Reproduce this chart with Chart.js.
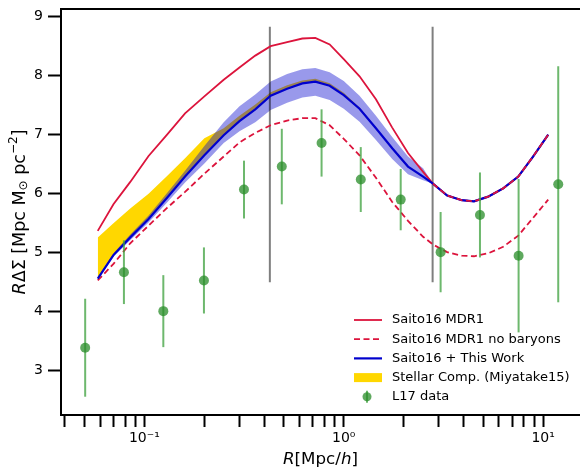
<!DOCTYPE html>
<html>
<head>
<meta charset="utf-8">
<style>
  body { margin: 0; background: #fff; }
  canvas { display: block; }
</style>
</head>
<body>
<canvas id="myChart" width="580" height="468"></canvas>

<script src="https://cdn.jsdelivr.net/npm/chart.js"></script>

<script>
  // radii for the model curves [Mpc/h]
  const rModel = [0.0584, 0.07, 0.085, 0.105, 0.13, 0.16, 0.2, 0.25, 0.3, 0.36,
                  0.43, 0.52, 0.62, 0.72, 0.85, 1.0, 1.2, 1.45, 1.75, 2.1,
                  2.5, 2.8, 3.3, 3.9, 4.5, 5.3, 6.3, 7.5, 8.9, 10.6];

  const saitoMDR1 = [5.36, 5.81, 6.19, 6.63, 6.99, 7.35, 7.64, 7.92, 8.13, 8.33,
                     8.49, 8.56, 8.62, 8.63, 8.52, 8.27, 7.98, 7.59, 7.11, 6.68,
                     6.36, 6.16, 5.96, 5.88, 5.86, 5.94, 6.08, 6.28, 6.62, 6.99];

  const noBaryons = [4.52, 4.80, 5.15, 5.45, 5.75, 6.02, 6.33, 6.62, 6.86, 7.02,
                     7.15, 7.23, 7.27, 7.27, 7.15, 6.92, 6.64, 6.26, 5.85, 5.53,
                     5.26, 5.13, 5.00, 4.94, 4.93, 4.98, 5.09, 5.28, 5.58, 5.89];

  const thisWork = [4.55, 4.95, 5.25, 5.56, 5.92, 6.28, 6.64, 6.98, 7.22, 7.42,
                    7.65, 7.77, 7.86, 7.89, 7.82, 7.66, 7.43, 7.10, 6.76, 6.45,
                    6.28, 6.16, 5.96, 5.88, 5.86, 5.94, 6.08, 6.28, 6.62, 6.99];

  // uncertainty band of "This Work" (first 22 radii)
  const thisWorkHi = [4.57, 4.98, 5.30, 5.62, 6.00, 6.38, 6.80, 7.20, 7.47, 7.67,
                      7.89, 8.02, 8.10, 8.12, 8.05, 7.90, 7.65, 7.31, 6.95, 6.62,
                      6.42, 6.16];
  const thisWorkLo = [4.53, 4.92, 5.20, 5.50, 5.84, 6.18, 6.50, 6.85, 7.05, 7.20,
                      7.41, 7.53, 7.62, 7.65, 7.58, 7.43, 7.21, 6.90, 6.58, 6.32,
                      6.22, 6.16];

  // stellar component (Miyatake15), upper edge; lower edge is the blue curve
  const stellarHi = [5.25, 5.49, 5.74, 5.99, 6.29, 6.59, 6.93, 7.10, 7.31, 7.50,
                     7.71, 7.83, 7.91, 7.94, 7.86, 7.70, 7.45, 7.11, 6.77, 6.45,
                     6.28, 6.16];

  // L17 data
  const l17R   = [0.0505, 0.079, 0.1245, 0.199, 0.316, 0.489, 0.774, 1.217, 1.93, 3.06, 4.82, 7.53, 11.9];
  const l17Y   = [3.38, 4.66, 4.00, 4.52, 6.06, 6.45, 6.85, 6.23, 5.89, 5.00, 5.63, 4.94, 6.15];
  const l17Err = [0.83, 0.54, 0.61, 0.56, 0.49, 0.64, 0.57, 0.55, 0.52, 0.68, 0.72, 1.30, 2.00];

  // grey vertical markers
  const cutR = [0.426, 2.79];
  const cutSpan = [4.49, 8.82];

  const xTicks = [0.04, 0.05, 0.06, 0.07, 0.08, 0.09, 0.1, 0.2, 0.3, 0.4, 0.5, 0.6, 0.7, 0.8, 0.9,
                  1, 2, 3, 4, 5, 6, 7, 8, 9, 10];
  const xTickLabels = { 0.1: '10\u207B\u00B9', 1: '10\u2070', 10: '10\u00B9' };
  const yTicks = [3, 4, 5, 6, 7, 8, 9];

  const nBand = thisWorkHi.length;
  const pts = (xs, ys) => ys.map((v, i) => ({ x: xs[i], y: v }));

  let datasets = [
    { label: 'stellarLo', data: pts(rModel, thisWork.slice(0, nBand)), borderWidth: 0, pointRadius: 0, order: 10 },
    { label: 'Stellar Comp. (Miyatake15)', data: pts(rModel, stellarHi), borderWidth: 0, pointRadius: 0,
      backgroundColor: '#FFD700', fill: 0, order: 9 },
    { label: 'bandLo', data: pts(rModel, thisWorkLo), borderWidth: 0, pointRadius: 0, order: 8 },
    { label: 'band', data: pts(rModel, thisWorkHi), borderWidth: 0, pointRadius: 0,
      backgroundColor: 'rgba(0,0,205,0.4)', fill: 2, order: 7 },
  ];

  cutR.forEach((r) => {
    datasets.push({ label: 'cut', data: [{ x: r, y: cutSpan[0] }, { x: r, y: cutSpan[1] }],
      borderColor: 'rgba(0,0,0,0.5)', borderWidth: 2, pointRadius: 0, order: 6 });
  });

  datasets.push(
    { label: 'Saito16 MDR1', data: pts(rModel, saitoMDR1), borderColor: '#DC143C', borderWidth: 1.8,
      pointRadius: 0, order: 5 },
    { label: 'Saito16 MDR1 no baryons', data: pts(rModel, noBaryons), borderColor: '#DC143C', borderWidth: 1.8,
      borderDash: [6, 3.5], pointRadius: 0, order: 4 },
    { label: 'Saito16 + This Work', data: pts(rModel, thisWork), borderColor: '#0000CD', borderWidth: 2.2,
      pointRadius: 0, order: 3 },
    { label: 'overlay', data: pts(rModel.slice(nBand - 1), thisWork.slice(nBand - 1)), borderColor: '#DC143C',
      borderWidth: 1.8, borderDash: [6, 3.5], pointRadius: 0, order: 2 },
    { label: 'L17 data', type: 'scatter', data: pts(l17R, l17Y), errors: l17Err,
      backgroundColor: 'rgba(40,140,40,0.75)', borderWidth: 0, pointRadius: 5, order: 0 }
  );

  const legendItems = ['Saito16 MDR1', 'Saito16 MDR1 no baryons', 'Saito16 + This Work',
                       'Stellar Comp. (Miyatake15)', 'L17 data'];
</script>

<script>
  const FONT = 'DejaVu Sans';

  const errorBars = {
    id: 'errorBars',
    beforeDatasetDraw(chart, args) {
      const ds = chart.data.datasets[args.index];
      if (!ds.errors) return;
      const ctx = chart.ctx, xs = chart.scales.x, ys = chart.scales.y;
      ctx.save();
      ctx.beginPath();
      ctx.rect(chart.chartArea.left, chart.chartArea.top, chart.chartArea.width, chart.chartArea.height);
      ctx.clip();
      ctx.strokeStyle = 'rgba(60,160,60,0.75)';
      ctx.lineWidth = 2;
      ds.data.forEach((p, i) => {
        const px = xs.getPixelForValue(p.x);
        ctx.beginPath();
        ctx.moveTo(px, ys.getPixelForValue(p.y - ds.errors[i]));
        ctx.lineTo(px, ys.getPixelForValue(p.y + ds.errors[i]));
        ctx.stroke();
      });
      ctx.restore();
    }
  };

  function drawPieces(ctx, pieces, x, y) {
    let total = 0;
    pieces.forEach(p => { ctx.font = p.font; total += ctx.measureText(p.t).width; });
    let cx = x - total / 2;
    pieces.forEach(p => {
      ctx.font = p.font;
      ctx.fillText(p.t, cx, y + (p.dy || 0));
      cx += ctx.measureText(p.t).width;
    });
  }

  const decorations = {
    id: 'decorations',
    afterDraw(chart) {
      const ctx = chart.ctx, a = chart.chartArea;
      ctx.save();
      // top spine
      ctx.strokeStyle = '#000';
      ctx.lineWidth = 2;
      ctx.beginPath();
      ctx.moveTo(a.left - 1, a.top);
      ctx.lineTo(a.right, a.top);
      ctx.stroke();

      ctx.fillStyle = '#000';
      ctx.textBaseline = 'middle';
      ctx.textAlign = 'left';
      const big = '16.7px ' + FONT, bigI = 'italic 16.7px ' + FONT;

      // x title
      drawPieces(ctx, [
        { t: 'R', font: bigI }, { t: '[Mpc/', font: big }, { t: 'h', font: bigI }, { t: ']', font: big }
      ], (a.left + a.right) / 2, 460);

      // y title
      const yb = '17.5px ' + FONT, ybI = 'italic 17.5px ' + FONT, ys = '12px ' + FONT;
      ctx.save();
      ctx.translate(20, (a.top + a.bottom) / 2);
      ctx.rotate(-Math.PI / 2);
      drawPieces(ctx, [
        { t: 'R', font: ybI }, { t: '\u0394\u03A3 [Mpc M', font: yb },
        { t: '\u2299', font: ys, dy: 4 }, { t: ' pc', font: yb },
        { t: '\u22122', font: ys, dy: -6 }, { t: ']', font: yb }
      ], 0, 0);
      ctx.restore();

      // legend
      const x0 = a.right - 226, xt = a.right - 188;
      ctx.font = '13px ' + FONT;
      legendItems.forEach((name, i) => {
        const ds = chart.data.datasets.find(d => d.label === name);
        const y = a.bottom - 95 + i * 19.2;
        if (ds.errors) {
          ctx.strokeStyle = 'rgba(60,160,60,0.75)';
          ctx.lineWidth = 2;
          ctx.beginPath();
          ctx.moveTo(x0 + 13, y - 6);
          ctx.lineTo(x0 + 13, y + 6);
          ctx.stroke();
          ctx.fillStyle = ds.backgroundColor;
          ctx.beginPath();
          ctx.arc(x0 + 13, y, 4.5, 0, Math.PI * 2);
          ctx.fill();
        } else if (ds.fill !== undefined) {
          ctx.fillStyle = ds.backgroundColor;
          ctx.fillRect(x0, y - 4.5, 28, 9);
        } else {
          ctx.strokeStyle = ds.borderColor;
          ctx.lineWidth = ds.borderWidth;
          ctx.setLineDash(ds.borderDash || []);
          ctx.beginPath();
          ctx.moveTo(x0, y);
          ctx.lineTo(x0 + 28, y);
          ctx.stroke();
          ctx.setLineDash([]);
        }
        ctx.fillStyle = '#000';
        ctx.fillText(name, xt, y);
      });
      ctx.restore();
    }
  };

  const ctx = document.getElementById('myChart');

  new Chart(ctx, {
    type: 'line',
    data: { datasets: datasets },
    plugins: [errorBars, decorations],
    options: {
      responsive: false,
      animation: false,
      devicePixelRatio: 1,
      layout: { autoPadding: false, padding: { top: 9, right: 0, left: 0, bottom: 0 } },
      plugins: {
        legend: { display: false },
        tooltip: { enabled: false },
        filler: { propagate: false }
      },
      elements: { line: { tension: 0 } },
      scales: {
        x: {
          type: 'logarithmic',
          min: 0.0382,
          max: 15.3,
          afterBuildTicks: (s) => { s.ticks = xTicks.map(v => ({ value: v })); },
          afterFit: (s) => { s.height = 53; s.paddingLeft = 0; s.paddingRight = 0; },
          ticks: {
            autoSkip: false,
            maxRotation: 0,
            padding: 3,
            color: '#000',
            font: { family: FONT, size: 14 },
            callback: (v) => xTickLabels[v] || ''
          },
          grid: { drawOnChartArea: false, drawTicks: true, tickLength: 12, tickWidth: 2, tickColor: '#000' },
          border: { display: true, color: '#000', width: 2 }
        },
        y: {
          min: 2.24,
          max: 9.12,
          afterBuildTicks: (s) => { s.ticks = yTicks.map(v => ({ value: v })); },
          afterFit: (s) => { s.width = 61; s.paddingTop = 0; s.paddingBottom = 0; },
          ticks: {
            padding: 5,
            color: '#000',
            font: { family: FONT, size: 14 }
          },
          grid: { drawOnChartArea: false, drawTicks: true, tickLength: 13, tickWidth: 2, tickColor: '#000' },
          border: { display: true, color: '#000', width: 2 }
        }
      }
    }
  });
</script>
</body>
</html>
